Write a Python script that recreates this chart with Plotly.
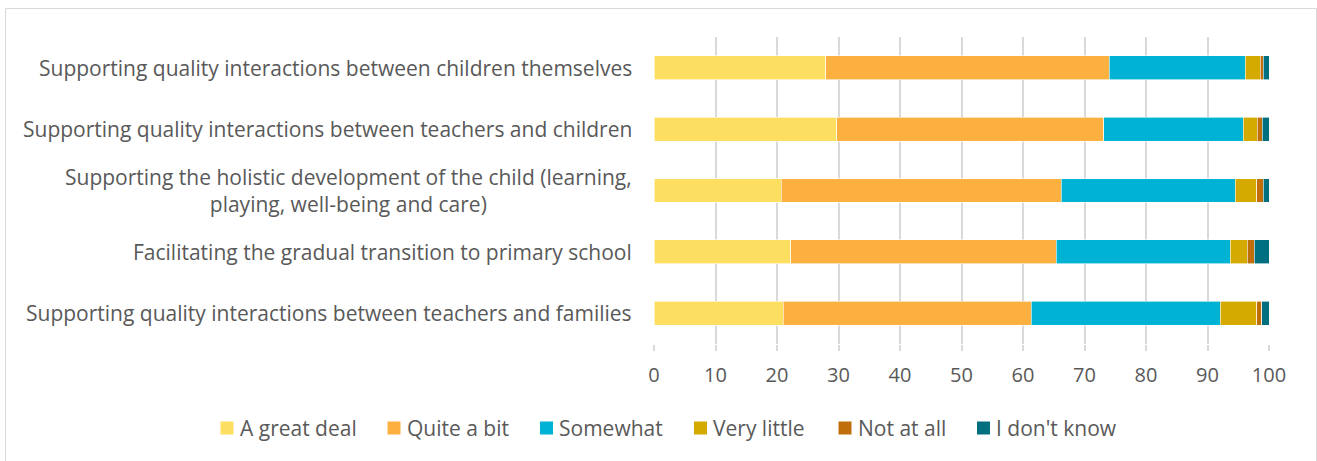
import plotly.graph_objects as go

# Survey items, listed top to bottom as displayed
categories = [
    "Supporting quality interactions between children themselves",
    "Supporting quality interactions between teachers and children",
    "Supporting the holistic development of the child (learning,<br>playing, well-being and care)",
    "Facilitating the gradual transition to primary school",
    "Supporting quality interactions between teachers and families",
]

series_names = ["A great deal", "Quite a bit", "Somewhat", "Very little", "Not at all", "I don't know"]

great_deal = [27.9, 29.7, 20.7, 22.2, 21.0]
quite_a_bit = [46.1, 43.4, 45.5, 43.2, 40.3]
somewhat = [22.1, 22.7, 28.3, 28.3, 30.8]
very_little = [2.5, 2.3, 3.5, 2.8, 5.9]
not_at_all = [0.5, 0.8, 1.1, 1.1, 0.8]
dont_know = [0.9, 1.1, 0.9, 2.4, 1.2]

x_ticks = [0, 10, 20, 30, 40, 50, 60, 70, 80, 90, 100]

colors = ["#FCDE60", "#FBB040", "#00B2D4", "#D4A900", "#BF6E0A", "#006F80"]
values = [great_deal, quite_a_bit, somewhat, very_little, not_at_all, dont_know]

FONT = "Open Sans"
GREY = "#595959"
W, H = 1317, 461
L, R, T, B = 654, 48, 37, 117
PW, PH = W - L - R, H - T - B

fig = go.Figure()
for name, vals, col in zip(series_names, values, colors):
    fig.add_trace(go.Bar(
        y=categories, x=vals, name=name, orientation="h",
        marker=dict(color=col, line=dict(color="white", width=0.6)),
        showlegend=False,
    ))

# Category labels, right-aligned against the plot with centred line breaks
annotations = []
for c in categories:
    annotations.append(dict(
        x=0, xref="paper", y=c, yref="y", xanchor="right", yanchor="middle",
        xshift=-20, text=c, showarrow=False, align="center",
        font=dict(family=FONT, size=21, color=GREY),
    ))

# Legend row beneath the axis
def px_x(p):
    return (p - L) / PW

def px_y(p):
    return (H - B - p) / PH

legend_x = [220.5, 387.5, 540, 694, 838.5, 977]
legend_y = 428
shapes = []
for name, col, lx in zip(series_names, colors, legend_x):
    shapes.append(dict(
        type="rect", xref="paper", yref="paper",
        x0=px_x(lx), x1=px_x(lx + 13), y0=px_y(legend_y + 6.5), y1=px_y(legend_y - 6.5),
        fillcolor=col, line=dict(width=0),
    ))
    annotations.append(dict(
        x=px_x(lx + 17), y=px_y(legend_y), xref="paper", yref="paper",
        xanchor="left", yanchor="middle", text=name, showarrow=False,
        font=dict(family=FONT, size=21, color=GREY),
    ))

# Light outer frame of the chart area
shapes.append(dict(
    type="rect", xref="paper", yref="paper", layer="below",
    x0=px_x(5.5), x1=px_x(1316.5), y0=px_y(470), y1=px_y(8.5),
    line=dict(color="#D9D9D9", width=1), fillcolor="rgba(0,0,0,0)",
))

fig.update_layout(
    width=W, height=H,
    margin=dict(l=L, r=R, t=T, b=B, pad=0),
    barmode="stack", bargap=0.61,
    plot_bgcolor="white", paper_bgcolor="white",
    font=dict(family=FONT, color=GREY),
    annotations=annotations, shapes=shapes,
    xaxis=dict(
        range=[0, 100], tickvals=x_ticks, showgrid=True,
        gridcolor="#D9D9D9", gridwidth=1.5, zeroline=False,
        showline=False, ticks="outside", ticklen=6, tickwidth=1.5,
        tickcolor="#D9D9D9", tickfont=dict(family=FONT, size=20, color=GREY),
        ticklabelstandoff=7, fixedrange=True,
    ),
    yaxis=dict(
        autorange="reversed", showticklabels=False, showgrid=False,
        zeroline=False, showline=False, ticks="", fixedrange=True,
    ),
)

fig.write_html("out.html")
